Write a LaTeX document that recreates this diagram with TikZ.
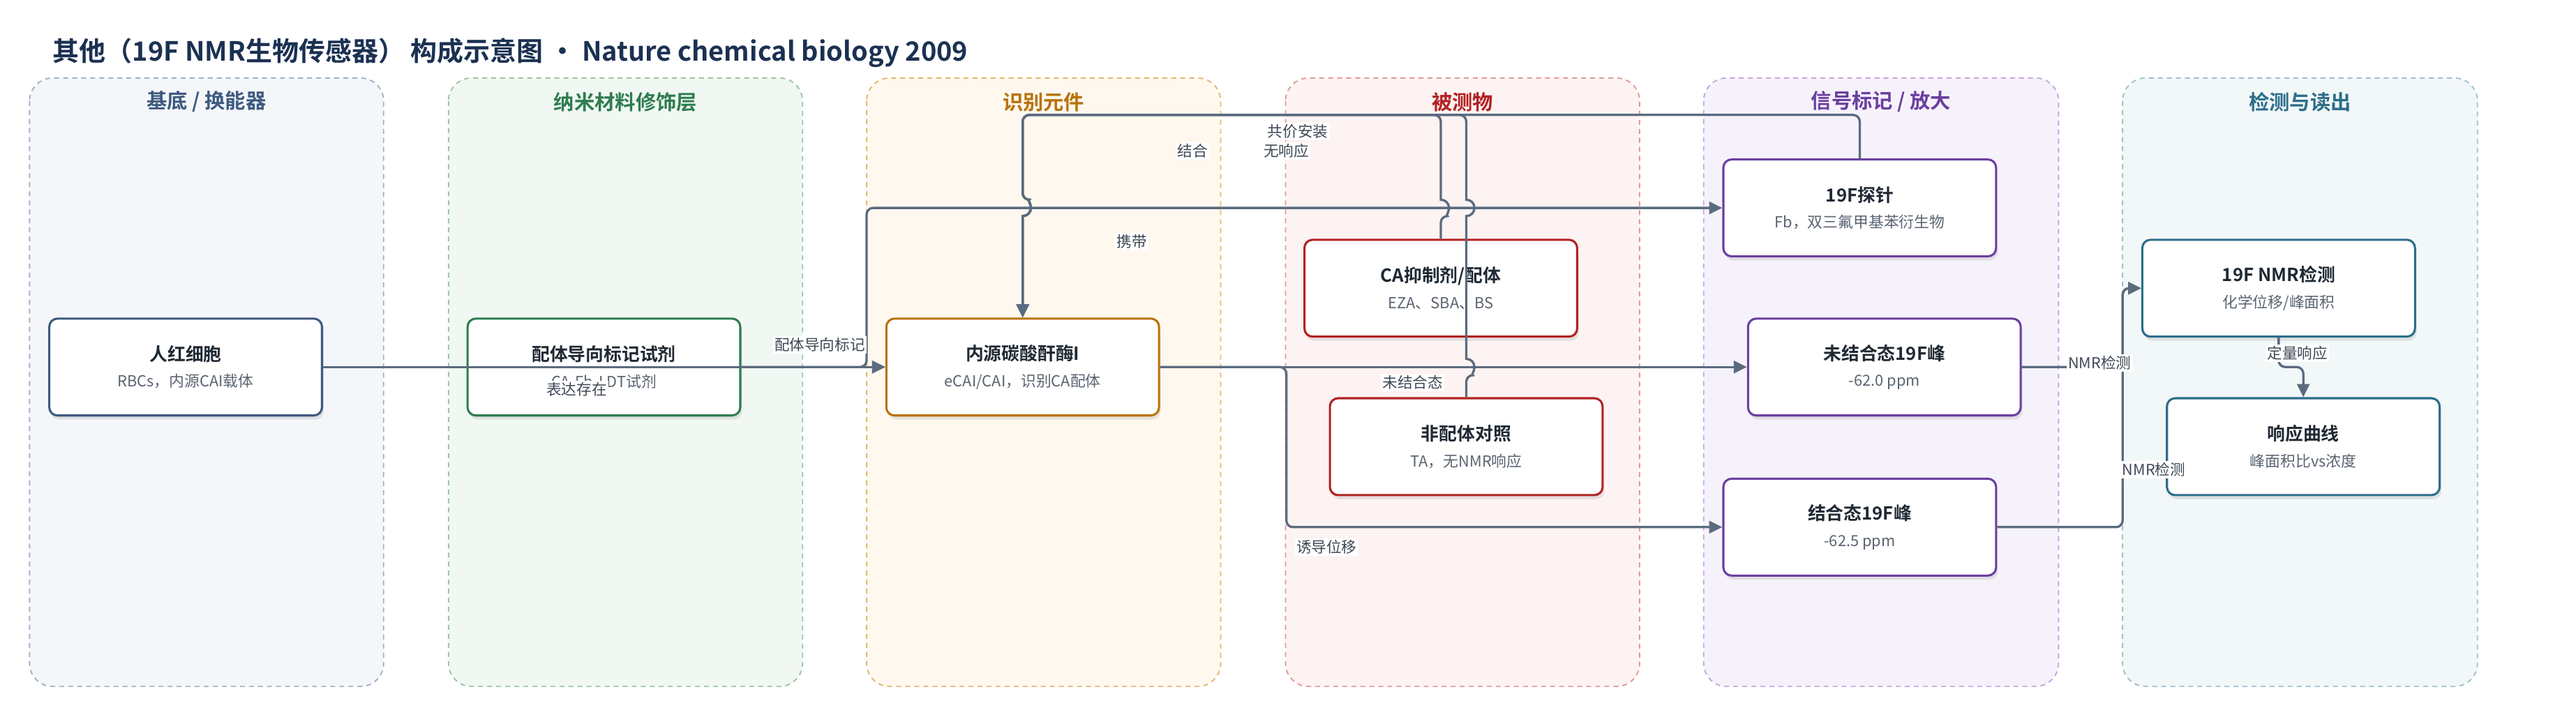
\documentclass[tikz,border=0pt]{standalone}
\usepackage{fontspec}
\setmainfont{Noto Sans CJK SC}[BoldFont={Noto Sans CJK SC Bold}]
\usetikzlibrary{arrows.meta,shadows}

\definecolor{edgec}{HTML}{5B6B7F}
\definecolor{titlec}{HTML}{1B3152}
\definecolor{txtc}{HTML}{1F2933}
\definecolor{subc}{HTML}{5A6470}
\definecolor{lblc}{HTML}{3E4856}
% lane colours: border of boxes, lane fill, dashed lane border
\definecolor{baseC}{HTML}{3D5A80}\definecolor{baseF}{HTML}{F4F6FA}\definecolor{baseD}{HTML}{A3B1C6}
\definecolor{nanoC}{HTML}{2E7D4F}\definecolor{nanoF}{HTML}{F1F8F3}\definecolor{nanoD}{HTML}{9CC5A7}
\definecolor{recoC}{HTML}{B8730A}\definecolor{recoF}{HTML}{FEF8EF}\definecolor{recoD}{HTML}{E3B872}
\definecolor{anaC}{HTML}{B22222}\definecolor{anaF}{HTML}{FDF3F2}\definecolor{anaD}{HTML}{E19A9A}
\definecolor{sigC}{HTML}{6B3FA0}\definecolor{sigF}{HTML}{F6F2FB}\definecolor{sigD}{HTML}{C3A8DE}
\definecolor{detC}{HTML}{2C6E8A}\definecolor{detF}{HTML}{F2F7F8}\definecolor{detD}{HTML}{9FC2CD}

\newcommand{\twoline}[2]{{\fontsize{11}{11}\selectfont\bfseries #1}\\[4bp]{\fontsize{9.3}{11}\selectfont\color{subc}#2}}

\tikzset{
  lane/.style={rounded corners=14bp, line width=0.8bp, dash pattern=on 3bp off 2.5bp},
  lanetitle/.style={font=\fontsize{12.5}{14}\selectfont\bfseries},
  box/.style={draw, fill=white, rounded corners=5bp, line width=1.3bp,
    minimum width=166bp, minimum height=59bp, inner sep=0pt, align=center, text=txtc,
    drop shadow={shadow xshift=1bp, shadow yshift=-2.5bp, opacity=0.18}},
  conn/.style={draw=edgec, line width=1.4bp, rounded corners=4bp,
    -{Triangle[length=8bp,width=7.5bp]}},
  lbl/.style={fill=white, inner sep=1bp, text=lblc, font=\fontsize{9.2}{10}\selectfont},
}

\begin{document}
\begin{tikzpicture}[x=1bp,y=1bp]
\useasboundingbox (0,0) rectangle (1568,-427.7);

% title
\node[anchor=west, inner sep=0pt, text=titlec, font=\fontsize{16.2}{19}\selectfont\bfseries] (title) at (32,-32)
  {其他（19F NMR生物传感器） 构成示意图 · Nature chemical biology 2009};

% lanes
\draw[lane, fill=baseF, draw=baseD] (18,-47.5) rectangle (233.5,-418);
\draw[lane, fill=nanoF, draw=nanoD] (273,-47.5) rectangle (488.5,-418);
\draw[lane, fill=recoF, draw=recoD] (527.5,-47.5) rectangle (743,-418);
\draw[lane, fill=anaF, draw=anaD] (782.5,-47.5) rectangle (998,-418);
\draw[lane, fill=sigF, draw=sigD] (1037,-47.5) rectangle (1253,-418);
\draw[lane, fill=detF, draw=detD] (1292,-47.5) rectangle (1508,-418);

\node[lanetitle, text=baseC] (t1) at (125.7,-62) {基底 / 换能器};
\node[lanetitle, text=nanoC] (t2) at (380.7,-62) {纳米材料修饰层};
\node[lanetitle, text=recoC] (t3) at (635.2,-62) {识别元件};
\node[lanetitle, text=anaC] (t4) at (890.2,-62) {被测物};
\node[lanetitle, text=sigC] (t5) at (1145,-62) {信号标记 / 放大};
\node[lanetitle, text=detC] (t6) at (1400,-62) {检测与读出};

% nodes
\node[box, draw=baseC] (rbc) at (113,-223.5) {\twoline{人红细胞}{RBCs，内源CAI载体}};
\node[box, draw=nanoC] (ldt) at (367.6,-223.5) {\twoline{配体导向标记试剂}{CA-Fb-LDT试剂}};
\node[box, draw=recoC] (cai) at (622.5,-223.5) {\twoline{内源碳酸酐酶I}{eCAI/CAI，识别CA配体}};
\node[box, draw=anaC] (inh) at (877,-175.5) {\twoline{CA抑制剂/配体}{EZA、SBA、BS}};
\node[box, draw=anaC] (ctrl) at (892.5,-272) {\twoline{非配体对照}{TA，无NMR响应}};
\node[box, draw=sigC] (probe) at (1132,-126.6) {\twoline{19F探针}{Fb，双三氟甲基苯衍生物}};
\node[box, draw=sigC] (free) at (1147,-223.5) {\twoline{未结合态19F峰}{-62.0 ppm}};
\node[box, draw=sigC] (bound) at (1132,-321) {\twoline{结合态19F峰}{-62.5 ppm}};
\node[box, draw=detC] (nmr) at (1387,-175.5) {\twoline{19F NMR检测}{化学位移/峰面积}};
\node[box, draw=detC] (curve) at (1402,-272) {\twoline{响应曲线}{峰面积比vs浓度}};

% connectors
\path[conn] (rbc) -- (cai);
\path[conn] (ldt) -- (cai);
\path[conn] (ldt.east) -- (527.5,-223.5) |- (probe.west);
\path[conn] (probe.north) |- (622.5,-70) -- (622.5,-121.6)
  [sharp corners] arc[start angle=90, end angle=-90, radius=5bp] [rounded corners=4bp] -- (cai.north);
\path[conn] (inh.north) -- (877,-131.6)
  [sharp corners] arc[start angle=-90, end angle=90, radius=5bp] [rounded corners=4bp]
  -- (877,-70) -- (622.5,-70) -- (622.5,-121.6)
  [sharp corners] arc[start angle=90, end angle=-90, radius=5bp] [rounded corners=4bp] -- (cai.north);
\path[conn] (ctrl.north) -- (892.5,-228.5)
  [sharp corners] arc[start angle=-90, end angle=90, radius=5bp] -- (892.5,-131.6)
  arc[start angle=-90, end angle=90, radius=5bp] [rounded corners=4bp]
  -- (892.5,-70) -- (622.5,-70) -- (622.5,-121.6)
  [sharp corners] arc[start angle=90, end angle=-90, radius=5bp] [rounded corners=4bp] -- (cai.north);
\path[conn] (cai) -- (free);
\path[conn] (cai.east) -- (783,-223.5) |- (bound.west);
\path[conn] (free.east) -- (1292,-223.5) |- (nmr.west);
\path[conn] (bound.east) -- (1292,-321) |- (nmr.west);
\path[conn] (nmr.south) -- (1387,-223.5) -| (curve.north);

% connector labels
\node[lbl] (l1) at (351,-237) {表达存在};
\node[lbl] (l2) at (499,-210) {配体导向标记};
\node[lbl] (l3) at (689,-147) {携带};
\node[lbl] (l4) at (790,-80) {共价安装};
\node[lbl] (l5) at (726,-92) {结合};
\node[lbl] (l6) at (783,-92) {无响应};
\node[lbl] (l7) at (860,-233) {未结合态};
\node[lbl] (l8) at (807.5,-333) {诱导位移};
\node[lbl] (l9) at (1278,-221) {NMR检测};
\node[lbl] (l10) at (1311,-286) {NMR检测};
\node[lbl] (l11) at (1398.5,-215) {定量响应};
\end{tikzpicture}
\end{document}
